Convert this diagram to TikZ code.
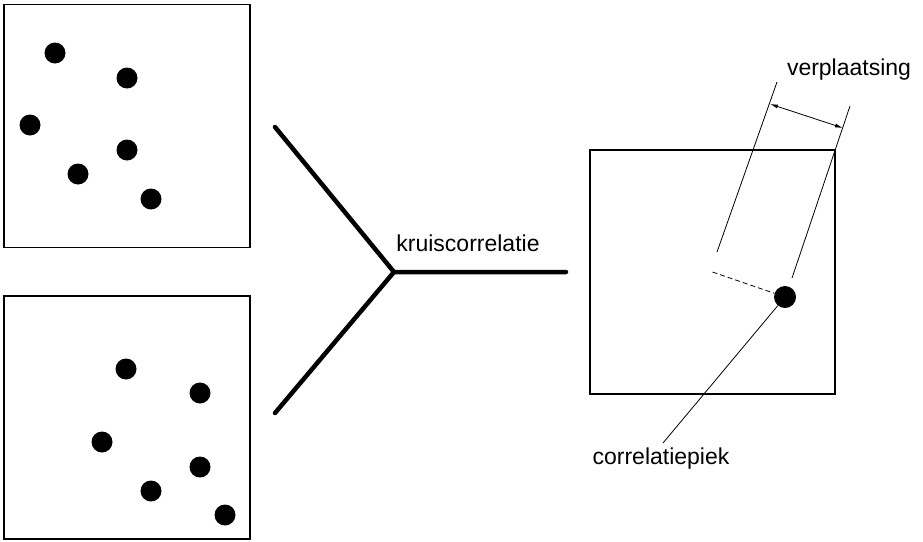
\documentclass[tikz,border=0pt]{standalone}
\usepackage{fontspec}
\setmainfont{Liberation Sans}
\usetikzlibrary{arrows.meta}
\begin{document}
\begin{tikzpicture}[x=1pt,y=-1pt,
  frame/.style={draw, line width=1.4pt, inner sep=0pt, minimum width=246pt, minimum height=243pt},
  blob/.style={circle, fill=black, inner sep=0pt, minimum size=21pt},
  bar/.style={line width=4.5pt, line cap=round, line join=miter},
  thin/.style={line width=0.8pt},
  lbl/.style={font=\fontsize{23}{27}\selectfont, inner sep=0pt}]
\useasboundingbox (0,0) rectangle (923,541);
% left frames
\node[frame] (img1) at (127,126) {};
\node[frame] (img2) at (127,417.5) {};
\node[frame, minimum width=245pt, minimum height=244pt] (corr) at (712.5,272) {};
% particles image 1
\node[blob] (a1) at (55,53) {};
\node[blob] (a2) at (127,78) {};
\node[blob] (a3) at (30,125) {};
\node[blob] (a4) at (127,150) {};
\node[blob] (a5) at (78,174) {};
\node[blob] (a6) at (151,199) {};
% particles image 2
\node[blob] (b1) at (126,369) {};
\node[blob] (b2) at (200,393) {};
\node[blob] (b3) at (102,442) {};
\node[blob] (b4) at (200,467) {};
\node[blob] (b5) at (151,491) {};
\node[blob] (b6) at (225,515) {};
% Y junction
\coordinate (y1) at (275,127);
\coordinate (y2) at (275,413);
\coordinate (yj) at (394,272);
\coordinate (yr) at (566,272);
\draw[bar] (y1) -- (yj) -- (yr);
\draw[bar] (y2) -- (yj);
\node[lbl] (kc) at (468,243) {kruiscorrelatie};
% correlation peak
\node[blob, minimum size=22pt] (peak) at (785,297) {};
\draw[thin, dashed, dash pattern=on 5pt off 3pt] (corr.center) -- (peak);
\node[lbl] (cp) at (661,459) {correlatiepiek};
\draw[thin] (peak) -- (663,443);
% dimension
\coordinate (e1a) at (717,252);
\coordinate (e1b) at (777,82);
\coordinate (e2a) at (792,278);
\coordinate (e2b) at (850,106);
\draw[thin] (e1a) -- (e1b);
\draw[thin] (e2a) -- (e2b);
\coordinate (d1) at (770,104);
\coordinate (d2) at (843,128);
\draw[thin, {Latex[length=8pt,width=4pt]}-{Latex[length=8pt,width=4pt]}] (d1) -- (d2);
\node[lbl] (vp) at (849,70) {verplaatsing};
\end{tikzpicture}
\end{document}
